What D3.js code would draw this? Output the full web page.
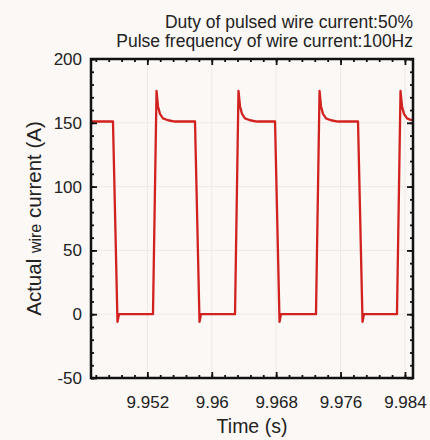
<!DOCTYPE html>
<html>
<head>
<meta charset="utf-8">
<script src="https://cdn.jsdelivr.net/npm/d3@7"></script>
<style>
  body { margin: 0; background: #fbf8f6; }
  svg { display: block; font-family: "Liberation Sans", Arial, sans-serif; }
</style>
</head>
<body>
<div id="chart"></div>
<script>
// wire current trace (time in s, current in A)
const times = [
  9.9450, 9.94773, 9.94829, 9.94848, 9.95270, 9.95314, 9.95332, 9.95357, 9.95394, 9.95457, 9.95543,
  9.95792, 9.95848, 9.95866, 9.96289, 9.96332, 9.96351, 9.96376, 9.96413, 9.96475, 9.96562,
  9.96786, 9.96842, 9.96860, 9.97295, 9.97339, 9.97357, 9.97382, 9.97419, 9.97481, 9.97568,
  9.97817, 9.97873, 9.97891, 9.98301, 9.98345, 9.98363, 9.98388, 9.98426, 9.98463, 9.9850
];
const current = [
  151, 151, -6, 0, 0, 175, 163, 157, 153.5, 152, 151,
  151, -6, 0, 0, 175, 163, 157, 153.5, 152, 151,
  151, -6, 0, 0, 175, 163, 157, 153.5, 152, 151,
  151, -6, 0, 0, 175, 163, 157, 153.5, 152.5, 152
];
const xTicks = [9.952, 9.96, 9.968, 9.976, 9.984];
const yTicks = [-50, 0, 50, 100, 150, 200];
const titleLines = ["Duty of pulsed wire current:50%", "Pulse frequency of wire current:100Hz"];

const W = 430, H = 440;
const margin = { top: 59, right: 17, bottom: 62, left: 91 };

const x = d3.scaleLinear()
  .domain([9.945, 9.985])
  .range([margin.left, W - margin.right]);

const y = d3.scaleLinear()
  .domain([-50, 200])
  .range([H - margin.bottom, margin.top]);

const xMinor = d3.range(9.9456, 9.9851, 0.0016);
const yMinor = d3.range(-50, 201, 10);

const svg = d3.select("#chart")
  .append("svg")
  .attr("width", W)
  .attr("height", H);

// faint grid at major ticks
svg.append("g")
  .attr("stroke", "#efe9e6")
  .attr("stroke-width", 1)
  .selectAll("line")
  .data(xTicks)
  .join("line")
  .attr("x1", d => x(d)).attr("x2", d => x(d))
  .attr("y1", y(200)).attr("y2", y(-50));

svg.append("g")
  .attr("stroke", "#efe9e6")
  .attr("stroke-width", 1)
  .selectAll("line")
  .data(yTicks)
  .join("line")
  .attr("x1", x(9.945)).attr("x2", x(9.985))
  .attr("y1", d => y(d)).attr("y2", d => y(d));

// the trace
const pts = times.map((t, i) => [t, current[i]]);
svg.append("path")
  .datum(pts)
  .attr("fill", "none")
  .attr("stroke", "#d2221f")
  .attr("stroke-width", 2.3)
  .attr("stroke-linejoin", "round")
  .attr("d", d3.line().x(d => x(d[0])).y(d => y(d[1])));

// axes, ticks pointing inward on all four sides
function styleAxis(g) {
  g.select(".domain").remove();
  g.selectAll("line").attr("stroke", "#111").attr("stroke-width", 1.8);
}

const yBot = H - margin.bottom, yTop = margin.top;
const xLeft = margin.left, xRight = W - margin.right;

svg.append("g")
  .attr("transform", `translate(0,${yBot})`)
  .call(d3.axisBottom(x).tickValues(xMinor).tickSize(-3).tickFormat(""))
  .call(styleAxis);
svg.append("g")
  .attr("transform", `translate(0,${yBot})`)
  .call(d3.axisBottom(x).tickValues(xTicks).tickSize(-6).tickPadding(18).tickFormat(d => String(d)))
  .call(styleAxis)
  .call(g => g.selectAll("text").attr("fill", "#222").style("font-size", "17px"));
svg.append("g")
  .attr("transform", `translate(0,${yTop})`)
  .call(d3.axisTop(x).tickValues(xMinor).tickSize(-3).tickFormat(""))
  .call(styleAxis);
svg.append("g")
  .attr("transform", `translate(0,${yTop})`)
  .call(d3.axisTop(x).tickValues(xTicks).tickSize(-6).tickFormat(""))
  .call(styleAxis);

svg.append("g")
  .attr("transform", `translate(${xLeft},0)`)
  .call(d3.axisLeft(y).tickValues(yMinor).tickSize(-3).tickFormat(""))
  .call(styleAxis);
svg.append("g")
  .attr("transform", `translate(${xLeft},0)`)
  .call(d3.axisLeft(y).tickValues(yTicks).tickSize(-6).tickPadding(9).tickFormat(d => String(d)))
  .call(styleAxis)
  .call(g => g.selectAll("text").attr("fill", "#222").style("font-size", "17px"));
svg.append("g")
  .attr("transform", `translate(${xRight},0)`)
  .call(d3.axisRight(y).tickValues(yMinor).tickSize(-3).tickFormat(""))
  .call(styleAxis);
svg.append("g")
  .attr("transform", `translate(${xRight},0)`)
  .call(d3.axisRight(y).tickValues(yTicks).tickSize(-6).tickFormat(""))
  .call(styleAxis);

// frame
svg.append("rect")
  .attr("x", xLeft).attr("y", yTop)
  .attr("width", xRight - xLeft).attr("height", yBot - yTop)
  .attr("fill", "none")
  .attr("stroke", "#111")
  .attr("stroke-width", 2.5);

// header text
svg.append("g")
  .selectAll("text")
  .data(titleLines)
  .join("text")
  .attr("x", xRight)
  .attr("y", (d, i) => 28 + i * 19)
  .attr("text-anchor", "end")
  .attr("fill", "#222")
  .style("font-size", "17.5px")
  .text(d => d);

// axis titles
svg.append("text")
  .attr("x", (xLeft + xRight) / 2)
  .attr("y", 433)
  .attr("text-anchor", "middle")
  .attr("fill", "#222")
  .style("font-size", "19.5px")
  .text("Time (s)");

const yl = svg.append("text")
  .attr("transform", `translate(41,${(yTop + yBot) / 2}) rotate(-90)`)
  .attr("text-anchor", "middle")
  .attr("fill", "#222")
  .style("font-size", "20.5px");
yl.append("tspan").text("Actual ");
yl.append("tspan").style("font-size", "16px").text("wire");
yl.append("tspan").text(" current (A)");
</script>
</body>
</html>
